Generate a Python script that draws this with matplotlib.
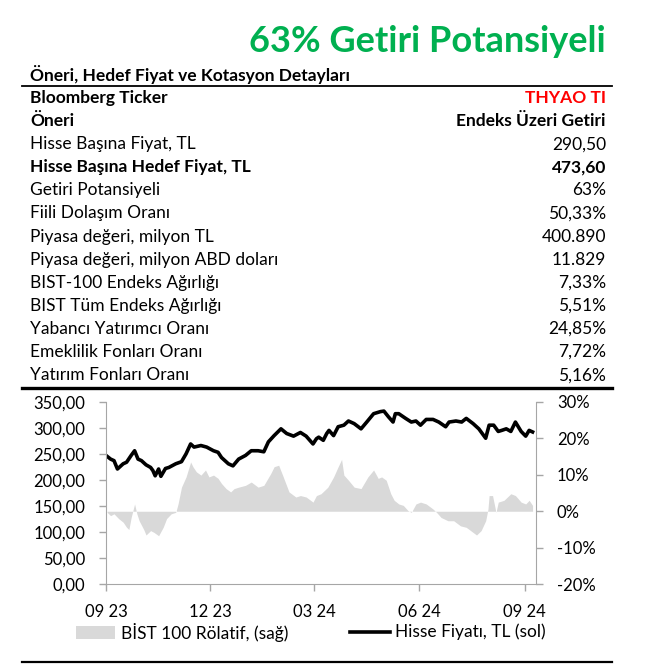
import pandas as pd
import matplotlib.pyplot as plt
import matplotlib.dates as mdates
from matplotlib.patches import Rectangle
from matplotlib.lines import Line2D

plt.rcParams['font.family'] = ['Lato', 'DejaVu Sans']

# table content
row_labels = ["Bloomberg Ticker", "Öneri", "Hisse Başına Fiyat, TL", "Hisse Başına Hedef Fiyat, TL",
              "Getiri Potansiyeli", "Fiili Dolaşım Oranı", "Piyasa değeri, milyon TL",
              "Piyasa değeri, milyon ABD doları", "BIST-100 Endeks Ağırlığı", "BIST Tüm Endeks Ağırlığı",
              "Yabancı Yatırımcı Oranı", "Emeklilik Fonları Oranı", "Yatırım Fonları Oranı"]
row_values = ["THYAO TI", "Endeks Üzeri Getiri", "290,50", "473,60", "63%", "50,33%", "400.890",
              "11.829", "7,33%", "5,51%", "24,85%", "7,72%", "5,16%"]
bold_rows = [0, 1, 3]

# price series (TL), days counted from 2023-09-01
start = pd.Timestamp("2023-09-01")
price_days = [0, 4, 7, 10, 15, 18, 22, 25, 28, 31, 35, 39, 41, 43, 46, 48, 52, 55, 61, 66,
              70, 74, 77, 83, 88, 94, 98, 101, 107, 111, 116, 122, 127, 133, 138, 142, 147, 153, 158, 164,
              170, 175, 181, 184, 186, 190, 193, 195, 199, 203, 208, 212, 217, 223, 228, 234, 240, 243, 247, 251,
              253, 256, 262, 267, 271, 275, 280, 286, 291, 297, 300, 306, 311, 315, 321, 326, 332, 335, 339, 343,
              346, 350, 354, 358, 363, 367, 370, 373]
price = [247, 240, 237, 221, 231, 234, 247, 256, 240, 237, 229, 224, 218, 208, 221, 207, 222, 224, 231, 235,
         250, 269, 263, 266, 263, 256, 253, 243, 231, 227, 240, 247, 256, 256, 254, 273, 285, 298, 289, 284,
         291, 284, 269, 279, 282, 276, 289, 295, 285, 302, 305, 313, 308, 298, 311, 327, 331, 332, 321, 311,
         327, 327, 318, 311, 313, 305, 316, 316, 311, 302, 311, 313, 311, 318, 308, 298, 280, 305, 305, 293,
         295, 298, 293, 311, 293, 284, 295, 292]

# relative performance vs BIST 100 (%)
rel_days = [1, 4, 7, 11, 15, 18, 20, 22, 25, 27, 29, 33, 35, 39, 42, 46, 50, 53, 57, 61,
            63, 66, 70, 74, 76, 79, 83, 87, 90, 94, 98, 101, 105, 109, 112, 116, 122, 127, 133, 138,
            144, 147, 151, 155, 160, 166, 170, 175, 181, 184, 188, 194, 199, 203, 206, 208, 212, 217, 223, 229,
            234, 238, 241, 245, 249, 252, 256, 260, 264, 267, 271, 275, 280, 286, 289, 293, 299, 304, 310, 315,
            321, 324, 328, 332, 334, 335, 338, 341, 343, 348, 354, 358, 363, 367, 370, 373]
rel = [-0.3, -1.2, -0.7, -2, -3, -4.4, -5, -1.7, 2, -0.7, -2.6, -5, -6.5, -5.3, -5.8, -6.7, -4.4, -2, -0.7, -0.3,
       2, 6.6, 9.4, 13.5, 12.2, 10.8, 9.9, 11.3, 9.4, 9.9, 9, 7.6, 6.2, 5.3, 6.2, 6.6, 7.1, 8, 6.6, 7.1,
       10.3, 12.2, 12.6, 9.4, 5.3, 3.9, 4.3, 3.9, 2.5, 4.3, 4.8, 6.6, 9.4, 12.2, 14.2, 9.9, 8.5, 6.6, 6.2, 9.4,
       11.3, 9, 9.4, 8.5, 4.8, 3, 2, 1.6, 0.2, -0.3, 2, 2.5, 2, 0.6, -0.3, -1.7, -2.6, -2.6, -4, -4.4,
       -5.8, -6.5, -5.3, -2.6, 0.6, 4.3, 4.3, -0.3, 2.5, 3, 4.8, 4.3, 2.5, 2, 3, 1.6]

price_dates = start + pd.to_timedelta(price_days, unit="D")
rel_dates = start + pd.to_timedelta(rel_days, unit="D")

W, H = 663, 672
fig = plt.figure(figsize=(W / 100, H / 100), dpi=100)

def fx(px):
    return px / W

def fy(py):
    return 1 - py / H

FS = 12.5

# title and table
fig.text(fx(606), fy(42), "63% Getiri Potansiyeli", color="#00b050", fontsize=26, fontweight="bold",
         ha="right", va="center")
fig.text(fx(30), fy(75), "Öneri, Hedef Fiyat ve Kotasyon Detayları", fontsize=FS, fontweight="bold",
         va="center")
fig.add_artist(Line2D([fx(22), fx(612)], [fy(86), fy(86)], color="black", lw=1.3))

for i, (lab, val) in enumerate(zip(row_labels, row_values)):
    y = fy(98 + 23.1 * i)
    w = "bold" if i in bold_rows else "normal"
    fig.text(fx(30), y, lab, fontsize=FS, fontweight=w, va="center")
    fig.text(fx(606), y, val, fontsize=FS, fontweight=w, va="center", ha="right",
             color="#ff0000" if i == 0 else "black")

fig.add_artist(Line2D([fx(22), fx(612)], [fy(388), fy(388)], color="black", lw=2.4))
fig.add_artist(Line2D([fx(22), fx(612)], [fy(662), fy(662)], color="black", lw=1.6))

# chart
ax = fig.add_axes([fx(106), fy(584.3), fx(536) - fx(106), (584.3 - 401.7) / H])
ax2 = ax.twinx()
ax.set_zorder(ax2.get_zorder() + 1)
ax.patch.set_visible(False)

ax2.fill_between(rel_dates, rel, 0, color="#d9d9d9", lw=0)
ax2.set_ylim(-20, 30)
ax2.set_yticks(range(-20, 31, 10))
ax2.set_yticklabels([f"{v}%" for v in range(-20, 31, 10)])

ax.plot(price_dates, price, color="black", lw=2.6, solid_joinstyle="round")
ax.set_ylim(0, 350)
ax.set_yticks(range(0, 351, 50))
ax.set_yticklabels([f"{v},00" for v in range(0, 351, 50)])
ax.set_xlim(start, start + pd.Timedelta(days=376))
ax.set_xticks(pd.to_datetime(["2023-09-01", "2023-12-01", "2024-03-01", "2024-06-01", "2024-09-01"]))
ax.xaxis.set_major_formatter(mdates.DateFormatter("%m %y"))

grey = "#a6a6a6"
for a in (ax, ax2):
    for s in a.spines.values():
        s.set_visible(False)
    a.tick_params(colors=grey, labelcolor="black", labelsize=12, length=5, width=1, pad=10)
ax.spines["left"].set_visible(True)
ax.spines["left"].set_color(grey)
ax.spines["bottom"].set_visible(True)
ax.spines["bottom"].set_color(grey)
ax2.spines["right"].set_visible(True)
ax2.spines["right"].set_color(grey)
ax.tick_params(axis="x", pad=9)

# legend drawn by hand to match the original placement
fig.add_artist(Rectangle((fx(76), fy(639)), fx(115) - fx(76), 13 / H, color="#d9d9d9", lw=0))
fig.text(fx(121), fy(632), "BİST 100 Rölatif, (sağ)", fontsize=FS, va="center")
fig.add_artist(Line2D([fx(350), fx(390)], [fy(632), fy(632)], color="black", lw=2.6))
fig.text(fx(395), fy(632), "Hisse Fiyatı, TL (sol)", fontsize=FS, va="center")

fig.savefig("out.png", dpi=100)
